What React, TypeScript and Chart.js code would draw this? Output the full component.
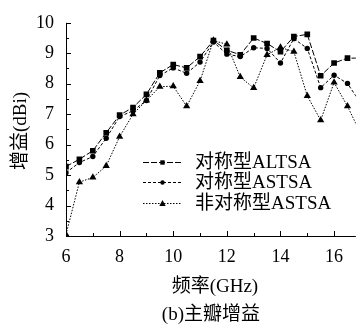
import { useEffect, useRef } from 'react';
import { Chart, registerables } from 'chart.js';

Chart.register(...registerables);

// ---- data ----
const freqs = [6, 6.5, 7, 7.5, 8, 8.5, 9, 9.5, 10, 10.5, 11, 11.5, 12, 12.5, 13, 13.5, 14, 14.5, 15, 15.5, 16, 16.5, 17];
const symALTSA = [5.28, 5.52, 5.8, 6.39, 6.97, 7.22, 7.65, 8.36, 8.63, 8.52, 8.89, 9.42, 9.1, 8.95, 9.5, 9.32, 9.05, 9.55, 9.62, 8.26, 8.68, 8.84, 8.84];
const symASTSA = [5.08, 5.41, 5.61, 6.21, 6.92, 7.11, 7.45, 8.27, 8.52, 8.34, 8.71, 9.37, 8.97, 8.89, 9.18, 9.16, 8.68, 9.48, 9.16, 7.87, 8.28, 8.01, 7.35];
const asymASTSA = [3.05, 4.77, 4.92, 5.3, 6.26, 7.0, 7.45, 7.9, 7.92, 7.26, 8.09, 9.42, 9.29, 8.22, 7.86, 8.95, 9.19, 9.05, 7.6, 6.8, 8.04, 7.26, 6.35];
const seriesNames = ['对称型ALTSA', '对称型ASTSA', '非对称型ASTSA'];
const xTickValues = [6, 8, 10, 12, 14, 16];
const yTickValues = [3, 4, 5, 6, 7, 8, 9, 10];
const xTitle = '频率(GHz)';
const yTitle = '增益(dBi)';
const caption = '(b)主瓣增益';

const FONT = "'Liberation Serif', 'Noto Sans CJK SC', serif";

function drawMarker(ctx: CanvasRenderingContext2D, kind: string, x: number, y: number, r: number) {
  ctx.beginPath();
  if (kind === 'rect') {
    ctx.rect(x - r, y - r, 2 * r, 2 * r);
  } else if (kind === 'circle') {
    ctx.arc(x, y, r, 0, Math.PI * 2);
  } else {
    ctx.moveTo(x, y - r * 1.1);
    ctx.lineTo(x + r, y + r * 0.75);
    ctx.lineTo(x - r, y + r * 0.75);
    ctx.closePath();
  }
  ctx.fill();
}

const decorPlugin = {
  id: 'decor',
  afterDraw(chart: any) {
    const { ctx, chartArea } = chart;
    const xs = chart.scales.x;
    const ys = chart.scales.y;
    const { left, right, top, bottom } = chartArea;
    ctx.save();
    ctx.strokeStyle = '#000';
    ctx.fillStyle = '#000';
    ctx.lineWidth = 1;
    ctx.setLineDash([]);
    // axes
    ctx.beginPath();
    ctx.moveTo(left + 0.5, top);
    ctx.lineTo(left + 0.5, bottom + 0.5);
    ctx.lineTo(right, bottom + 0.5);
    ctx.stroke();
    // inward ticks (major + minor)
    ctx.beginPath();
    for (let v = xs.min; v <= xs.max + 1e-9; v += 1) {
      const px = Math.round(xs.getPixelForValue(v)) + 0.5;
      const len = xTickValues.includes(v) ? 5 : 3;
      ctx.moveTo(px, bottom);
      ctx.lineTo(px, bottom - len);
    }
    for (let v = ys.min; v <= ys.max + 1e-9; v += 0.5) {
      const py = Math.round(ys.getPixelForValue(v)) + 0.5;
      const len = Number.isInteger(v) ? 5 : 3;
      ctx.moveTo(left, py);
      ctx.lineTo(left + len, py);
    }
    ctx.stroke();

    // legend
    const metas = chart.data.datasets;
    const lx0 = 143, lx1 = 182, tx = 195;
    const rows = [162, 182, 203];
    ctx.font = `19px ${FONT}`;
    ctx.textBaseline = 'middle';
    ctx.textAlign = 'left';
    metas.forEach((ds: any, i: number) => {
      const y = rows[i] + 0.5;
      ctx.setLineDash(ds.borderDash || []);
      ctx.lineWidth = 1;
      ctx.beginPath();
      ctx.moveTo(lx0, y);
      ctx.lineTo(lx1, y);
      ctx.stroke();
      ctx.setLineDash([]);
      const kind = ds.pointStyle === 'rect' ? 'rect' : ds.pointStyle === 'circle' ? 'circle' : 'tri';
      drawMarker(ctx, kind, (lx0 + lx1) / 2, y, kind === 'tri' ? 3.2 : 2.2);
      ctx.fillText(ds.label, tx, rows[i] + 1);
    });

    // titles
    ctx.textAlign = 'center';
    ctx.textBaseline = 'middle';
    ctx.fillText(xTitle, (left + right) / 2 + 4, 287);
    ctx.fillText(caption, (left + right) / 2, 315);
    ctx.translate(21, 131);
    ctx.rotate(-Math.PI / 2);
    ctx.fillText(yTitle, 0, 0);
    ctx.restore();
  },
};

export default function App() {
  const ref = useRef<HTMLCanvasElement>(null);
  useEffect(() => {
    if (!ref.current) return;
    const mk = (label: string, data: number[], dash: number[], style: string, r: number) => ({
      label,
      data: freqs.map((f, i) => ({ x: f, y: data[i] })),
      borderColor: '#000',
      backgroundColor: '#000',
      borderWidth: 1,
      borderDash: dash,
      pointStyle: style,
      pointRadius: r,
      pointBorderWidth: 0,
      pointBackgroundColor: '#000',
      tension: 0,
    });
    const chart = new Chart(ref.current, {
      type: 'line',
      data: {
        datasets: [
          mk(seriesNames[0], symALTSA, [6, 2], 'rect', 4),
          mk(seriesNames[1], symASTSA, [3, 2], 'circle', 2.7),
          mk(seriesNames[2], asymASTSA, [1.5, 1.5], 'triangle', 4.2),
        ],
      },
      options: {
        responsive: false,
        animation: false,
        layout: { padding: { top: 17, left: 0, right: 0, bottom: 0 } },
        plugins: { legend: { display: false }, tooltip: { enabled: false }, title: { display: false } },
        scales: {
          x: {
            type: 'linear',
            min: 6,
            max: 16.81,
            grid: { display: false, drawTicks: false },
            border: { display: false },
            afterBuildTicks: (s: any) => { s.ticks = xTickValues.map((v) => ({ value: v })); },
            afterFit: (s: any) => { s.height = 91; },
            ticks: { autoSkip: false, maxRotation: 0, padding: 10, color: '#000', font: { family: FONT, size: 18 } },
          },
          y: {
            type: 'linear',
            min: 3,
            max: 10,
            grid: { display: false, drawTicks: false },
            border: { display: false },
            afterBuildTicks: (s: any) => { s.ticks = yTickValues.map((v) => ({ value: v })); },
            afterFit: (s: any) => { s.width = 66; },
            ticks: { autoSkip: false, padding: 12, color: '#000', font: { family: FONT, size: 18 } },
          },
        },
      },
      plugins: [decorPlugin],
    });
    return () => chart.destroy();
  }, []);
  return (
    <div style={{ position: 'fixed', left: 0, top: 0, width: 360, height: 327, background: '#fff' }}>
      <canvas ref={ref} width={360} height={327} style={{ display: 'block' }} />
    </div>
  );
}
